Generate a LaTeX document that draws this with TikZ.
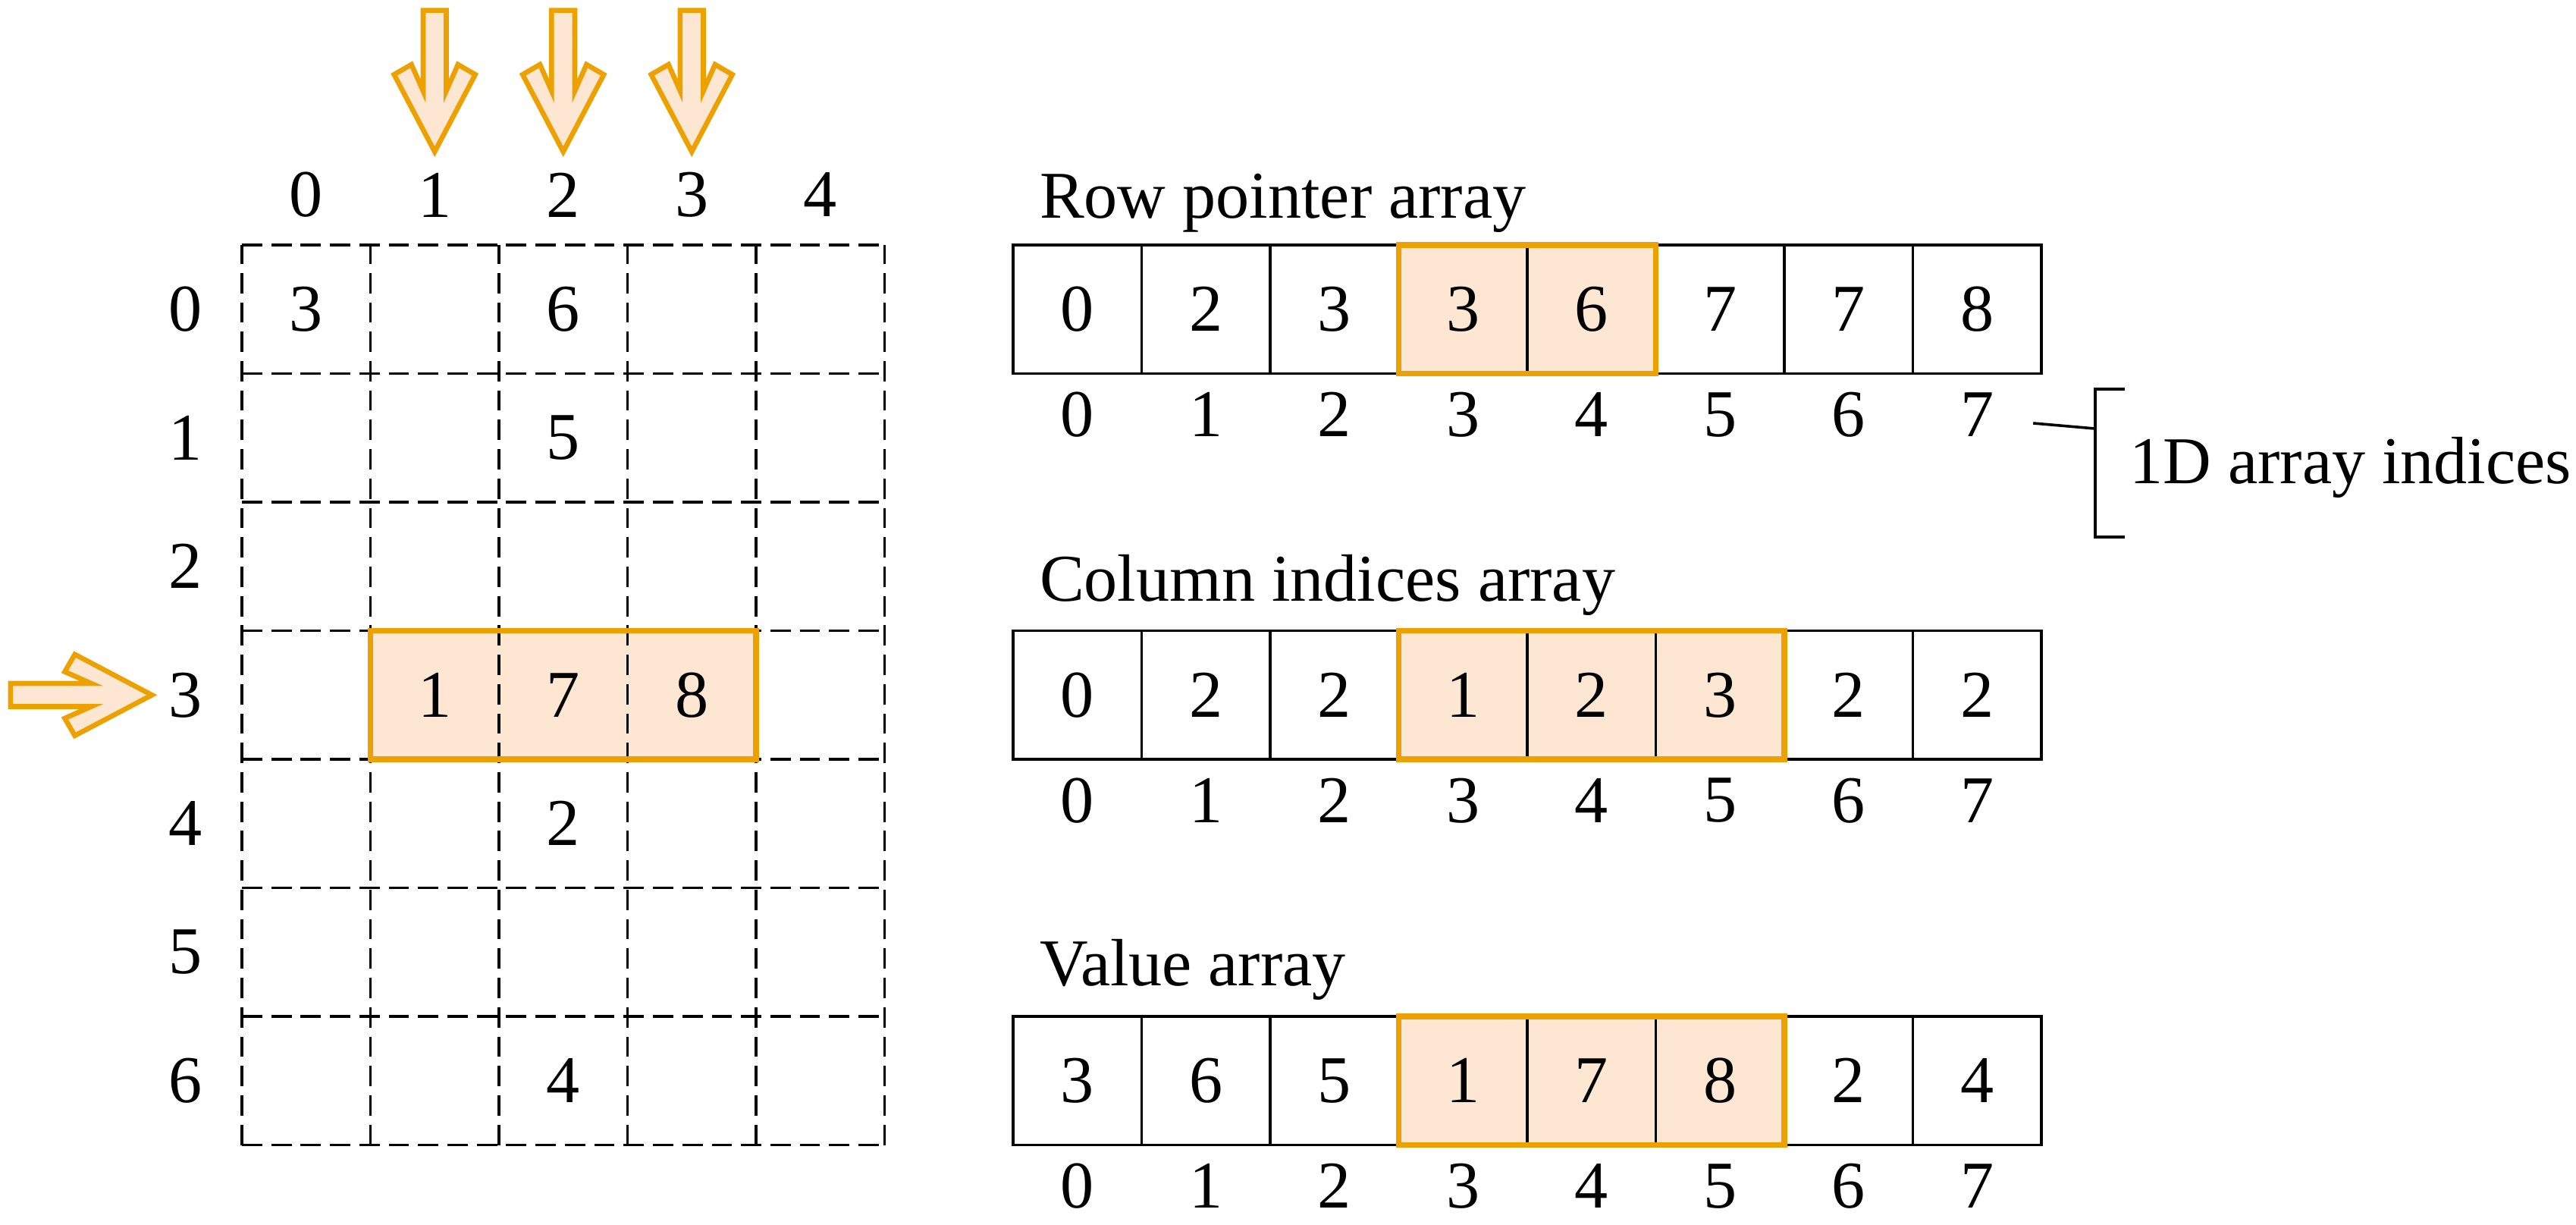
\documentclass[tikz,border=0pt]{standalone}
\usepackage{fontspec}
\setmainfont{Liberation Serif}
\usetikzlibrary{positioning}

\definecolor{hlorange}{RGB}{237,161,0}
\definecolor{hlfill}{RGB}{253,231,211}

\tikzset{
  gridcell/.style={minimum size=1cm, inner sep=0pt, outer sep=0pt},
  griddash/.style={dash pattern=on 4.5pt off 2pt, line width=0.6pt},
  arrcell/.style={draw, line width=0.6pt, minimum size=1cm, inner sep=0pt, outer sep=0pt},
  hlbox/.style={draw=hlorange, line width=1.3pt},
  idx/.style={inner sep=0pt},
  title/.style={anchor=base west, inner sep=0pt},
  fatarrow/.pic={
    \draw[draw=hlorange, fill=hlfill, line width=1.1pt]
      (0,0) -- (0.316,0.60) -- (0.181,0.678) -- (0.090,0.472) -- (0.090,1.10)
      -- (-0.090,1.10) -- (-0.090,0.472) -- (-0.181,0.678) -- (-0.316,0.60) -- cycle;
  }
}

\begin{document}
\begin{tikzpicture}[font=\fontsize{14.8}{17}\selectfont]
    \useasboundingbox (-1.882,-7.617) rectangle (18.16,1.906);

    % Matriz dispersa (izquierda)
    \fill[hlfill] (1,-3) rectangle (4,-4);
    \draw[griddash] (0,-7) grid (5,0);
    \foreach \r in {0,...,6}
        \foreach \c in {0,...,4}
            \node[gridcell] (g-\r-\c) at (\c+0.5,-\r-0.5) {};
    \foreach \r/\c/\v in {0/0/3, 0/2/6, 1/2/5, 3/1/1, 3/2/7, 3/3/8, 4/2/2, 6/2/4}
        \node (v-\r-\c) at (g-\r-\c) {\v};
    \draw[hlbox] (g-3-1.north west) rectangle (g-3-3.south east);

    % Etiquetas de filas y columnas
    \foreach \c in {0,...,4}
        \node[idx] (col-\c) at (\c+0.5,0.39) {\c};
    \foreach \r in {0,...,6}
        \node[idx] (row-\r) at (-0.44,-\r-0.5) {\r};

    % Flechas
    \foreach \c in {1,2,3}
        \pic at (\c+0.5,0.726) {fatarrow};
    \pic[rotate=90] at (-0.70,-3.5) {fatarrow};

    % Row pointer array
    \node[title] (rp-title) at (6.2,0.21) {Row pointer array};
    \fill[hlfill] (9,0) rectangle (11,-1);
    \foreach \v [count=\i from 0] in {0,2,3,3,6,7,7,8}
        \node[arrcell] (rp-\i) at (6.5+\i,-0.5) {\v};
    \draw[hlbox] (rp-3.north west) rectangle (rp-4.south east);
    \foreach \i in {0,...,7}
        \node[idx] (rpi-\i) at (6.5+\i,-1.32) {\i};

    % Column indices array
    \node[title] (ci-title) at (6.2,-2.77) {Column indices array};
    \fill[hlfill] (9,-3) rectangle (12,-4);
    \foreach \v [count=\i from 0] in {0,2,2,1,2,3,2,2}
        \node[arrcell] (ci-\i) at (6.5+\i,-3.5) {\v};
    \draw[hlbox] (ci-3.north west) rectangle (ci-5.south east);
    \foreach \i in {0,...,7}
        \node[idx] (cii-\i) at (6.5+\i,-4.32) {\i};

    % Value array
    \node[title] (va-title) at (6.2,-5.76) {Value array};
    \fill[hlfill] (9,-6) rectangle (12,-7);
    \foreach \v [count=\i from 0] in {3,6,5,1,7,8,2,4}
        \node[arrcell] (va-\i) at (6.5+\i,-6.5) {\v};
    \draw[hlbox] (va-3.north west) rectangle (va-5.south east);
    \foreach \i in {0,...,7}
        \node[idx] (vai-\i) at (6.5+\i,-7.32) {\i};

    % Corchete con nota
    \coordinate (brk-top) at (14.42,-1.121);
    \coordinate (brk-bot) at (14.42,-2.271);
    \coordinate (brk-join) at (14.42,-1.428);
    \draw[line width=0.6pt] ([xshift=0.23cm]brk-top) -- (brk-top) -- (brk-bot) -- ([xshift=0.23cm]brk-bot);
    \draw[line width=0.6pt] ([shift={(0.30,-0.066)}]rpi-7.east) -- (brk-join);
    \node[title] (idx-note) at (14.68,-1.853) {1D array indices};
\end{tikzpicture}
\end{document}
